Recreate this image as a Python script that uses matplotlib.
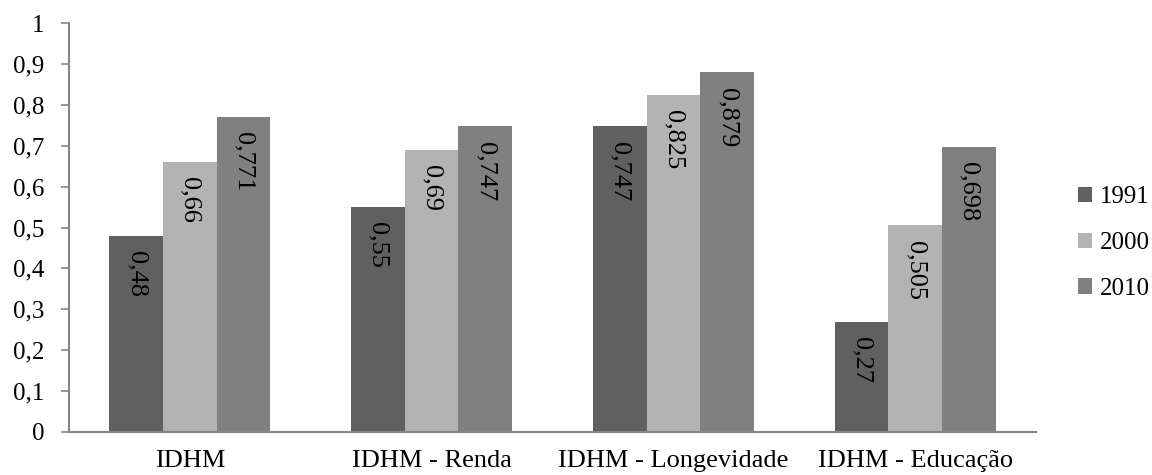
import matplotlib
matplotlib.use("Agg")
import matplotlib.pyplot as plt
import numpy as np
from matplotlib.ticker import FuncFormatter

plt.rcParams['font.family'] = ['Liberation Serif', 'DejaVu Serif']

categories = ["IDHM", "IDHM - Renda", "IDHM - Longevidade", "IDHM - Educação"]
series_names = ["1991", "2000", "2010"]
v1991 = [0.48, 0.55, 0.747, 0.27]
v2000 = [0.66, 0.69, 0.825, 0.505]
v2010 = [0.771, 0.747, 0.879, 0.698]
colors = ["#606060", "#b3b3b3", "#808080"]

fig = plt.figure(figsize=(11.52, 4.75), dpi=100)
ax = fig.add_axes([69/1152, 43/475, (1036-69)/1152, (432-23)/475])

x = np.arange(len(categories))
bw = 1/4.5
for i, (vals, name, c) in enumerate(zip([v1991, v2000, v2010], series_names, colors)):
    pos = x + (i - 1) * bw
    ax.bar(pos, vals, width=bw, color=c, label=name, edgecolor='none')
    for p, v in zip(pos, vals):
        ax.annotate(f"{v:g}".replace('.', ','), xy=(p, v), xytext=(0, -11),
                    textcoords='offset points', rotation=270,
                    ha='center', va='top', fontsize=19, color='black')

ax.set_xlim(-0.5, len(categories) - 0.5)
ax.set_ylim(0, 1)
ax.set_yticks(np.arange(0, 1.01, 0.1))
ax.yaxis.set_major_formatter(FuncFormatter(lambda v, p: f"{round(v, 1):g}".replace('.', ',')))
ax.set_xticks(x)
ax.set_xticklabels(categories)
ax.tick_params(axis='x', length=0, pad=13, labelsize=19)
ax.tick_params(axis='y', length=5.8, width=1.2, color='#868686', pad=12, labelsize=18)
for s in ['top', 'right']:
    ax.spines[s].set_visible(False)
for s in ['left', 'bottom']:
    ax.spines[s].set_color('#868686')
    ax.spines[s].set_linewidth(1.5)

fig.legend(loc='center left', bbox_to_anchor=(1078/1152, 232/475), frameon=False,
           fontsize=18, handlelength=0.56, handleheight=0.56, handletextpad=0.3,
           labelspacing=0.95, borderpad=0, borderaxespad=0)

fig.savefig("out.png", dpi=100)
